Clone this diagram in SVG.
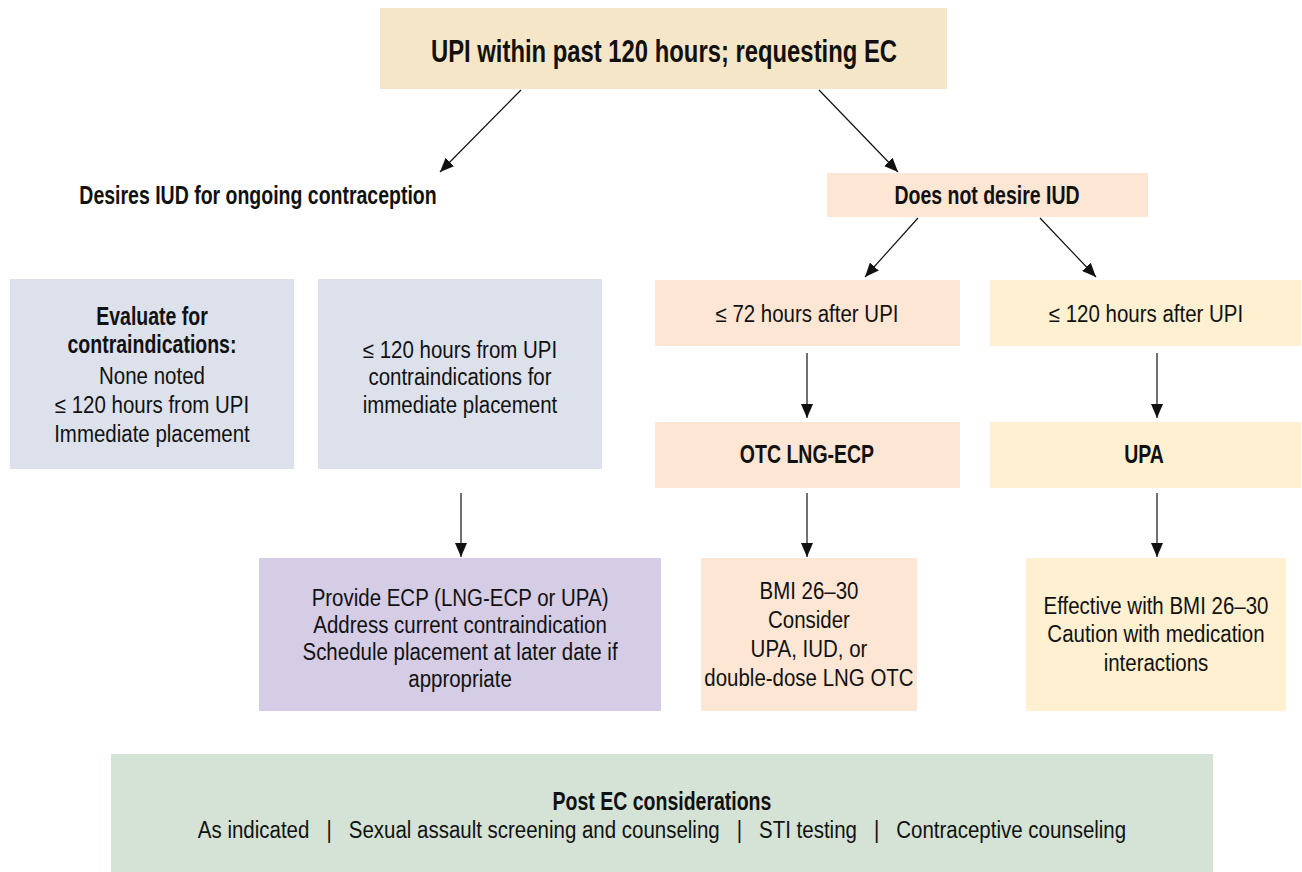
<svg xmlns="http://www.w3.org/2000/svg" width="1302" height="872" viewBox="0 0 1302 872">
<style>
text{font-family:"Liberation Sans",Arial,sans-serif;fill:#111;text-anchor:middle;transform-box:fill-box;transform-origin:center}
.r{font-size:23px;transform:scaleX(0.89)}
.b{font-size:25px;font-weight:bold;transform:scaleX(0.78)}
.h{font-size:32px;font-weight:bold;transform:scaleX(0.745)}
.cn{stroke:#111;stroke-width:1.2;fill:none}
</style>
<defs>
<marker id="ah" viewBox="0 0 14 12" refX="14" refY="6" markerWidth="14" markerHeight="12" markerUnits="userSpaceOnUse" orient="auto">
<path d="M0,0 L14,6 L0,12 z" fill="#111"/>
</marker>
</defs>
<rect width="1302" height="872" fill="#fff"/>
<g id="connectors">
<line class="cn" x1="521" y1="90" x2="440" y2="172" marker-end="url(#ah)"/>
<line class="cn" x1="819" y1="90" x2="898" y2="172" marker-end="url(#ah)"/>
<line class="cn" x1="918" y1="218" x2="865" y2="277" marker-end="url(#ah)"/>
<line class="cn" x1="1040" y1="218" x2="1096" y2="277" marker-end="url(#ah)"/>
<line class="cn" x1="807" y1="353" x2="807" y2="418" marker-end="url(#ah)"/>
<line class="cn" x1="1157" y1="353" x2="1157" y2="418" marker-end="url(#ah)"/>
<line class="cn" x1="807" y1="493" x2="807" y2="557" marker-end="url(#ah)"/>
<line class="cn" x1="1157" y1="493" x2="1157" y2="557" marker-end="url(#ah)"/>
<line class="cn" x1="461" y1="493" x2="461" y2="557" marker-end="url(#ah)"/>
</g>
<g id="n-top">
<rect x="380" y="8" width="567" height="81" fill="#f6e6c8"/>
<text class="h" x="664" y="62">UPI within past 120 hours; requesting EC</text>
</g>
<g id="n-desires">
<text class="b" x="258" y="204">Desires IUD for ongoing contraception</text>
</g>
<g id="n-notdesire">
<rect x="827" y="173" width="321" height="44" fill="#fde6d4"/>
<text class="b" x="987" y="204">Does not desire IUD</text>
</g>
<g id="n-evaluate">
<rect x="10" y="279" width="284" height="190" fill="#dce1ec"/>
<text class="b" x="152" y="325">Evaluate for<tspan x="152" dy="28">contraindications:</tspan></text>
<text class="r" x="152" y="384">None noted<tspan x="152" dy="29">≤ 120 hours from UPI</tspan><tspan x="152" dy="29">Immediate placement</tspan></text>
</g>
<g id="n-contra">
<rect x="318" y="279" width="284" height="190" fill="#dce1ec"/>
<text class="r" x="460" y="358">≤ 120 hours from UPI<tspan x="460" dy="27">contraindications for</tspan><tspan x="460" dy="28">immediate placement</tspan></text>
</g>
<g id="n-72">
<rect x="655" y="280" width="305" height="66" fill="#fde6d4"/>
<text class="r" x="807" y="322">≤ 72 hours after UPI</text>
</g>
<g id="n-120">
<rect x="990" y="280" width="311" height="66" fill="#fef0d0"/>
<text class="r" x="1146" y="322">≤ 120 hours after UPI</text>
</g>
<g id="n-otc">
<rect x="655" y="422" width="305" height="66" fill="#fde6d4"/>
<text class="b" x="807" y="463">OTC LNG-ECP</text>
</g>
<g id="n-upa">
<rect x="990" y="422" width="311" height="66" fill="#fef0d0"/>
<text class="b" x="1144" y="463">UPA</text>
</g>
<g id="n-provide">
<rect x="259" y="558" width="402" height="153" fill="#d5cce6"/>
<text class="r" x="460" y="606">Provide ECP (LNG-ECP or UPA)<tspan x="460" dy="27">Address current contraindication</tspan><tspan x="460" dy="27">Schedule placement at later date if</tspan><tspan x="460" dy="27">appropriate</tspan></text>
</g>
<g id="n-bmi">
<rect x="701" y="558" width="216" height="153" fill="#fde6d4"/>
<text class="r" x="809" y="599">BMI 26–30<tspan x="809" dy="29">Consider</tspan><tspan x="809" dy="29">UPA, IUD, or</tspan><tspan x="809" dy="29">double-dose LNG OTC</tspan></text>
</g>
<g id="n-effective">
<rect x="1026" y="558" width="260" height="153" fill="#fef0d0"/>
<text class="r" x="1156" y="614">Effective with BMI 26–30<tspan x="1156" dy="28">Caution with medication</tspan><tspan x="1156" dy="29">interactions</tspan></text>
</g>
<g id="n-post">
<rect x="111" y="754" width="1102" height="118" fill="#d4e3d5"/>
<text class="b" x="662" y="810">Post EC considerations</text>
<text class="r" x="662" y="838" xml:space="preserve">As indicated   |   Sexual assault screening and counseling   |   STI testing   |   Contraceptive counseling</text>
</g>
</svg>
